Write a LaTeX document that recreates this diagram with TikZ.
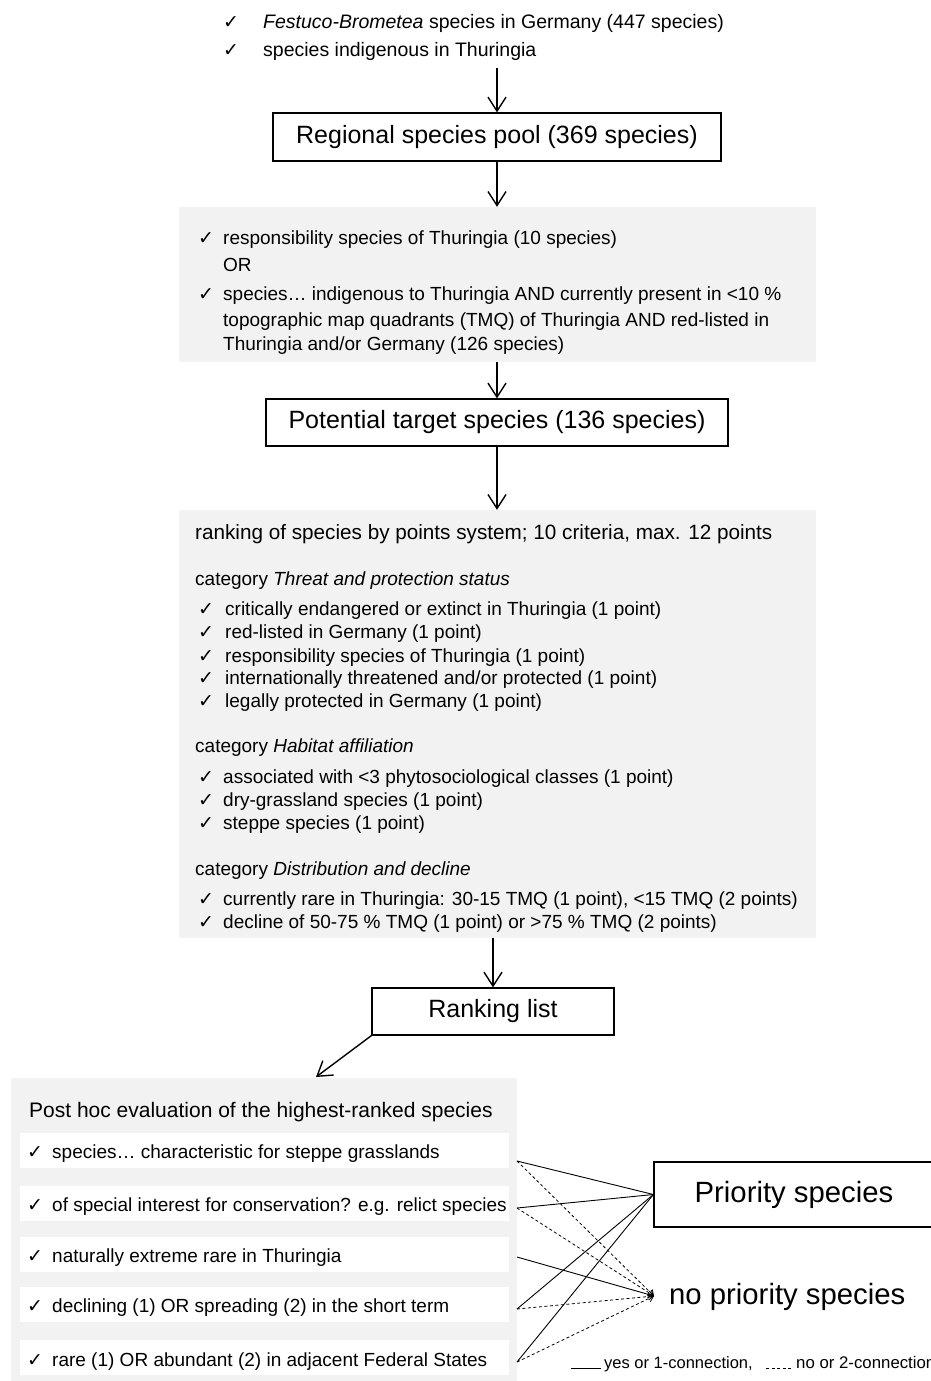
\documentclass[tikz,border=0pt]{standalone}
\usepackage{fontspec}
\setmainfont{Liberation Sans}
\newfontfamily\checkfont{DejaVu Sans}
\usetikzlibrary{positioning,arrows.meta}

\newcommand{\chk}[1][25pt]{\makebox[#1][l]{\checkfont\fontsize{19}{19}\selectfont ✓}}
\newcommand{\fs}[1]{\fontsize{#1}{#1}\selectfont}

\tikzset{
  titlebox/.style={draw, line width=1.2pt, minimum height=48pt, inner sep=0pt, font=\fs{25}},
  greybox/.style={fill=black!5, inner sep=0pt},
  rowbox/.style={fill=white, inner sep=0pt, minimum width=489pt, minimum height=35pt},
  txt/.style={anchor=base west, inner sep=0pt, font=\fs{19}},
  arr/.style={-{Straight Barb[length=14pt,width=18pt]}, line width=1.4pt},
  yes/.style={line width=0.9pt},
  no/.style={line width=0.8pt, dash pattern=on 3pt off 2.5pt},
  tip/.style={-{Straight Barb[length=5pt,width=7pt]}}
}

\begin{document}
\begin{tikzpicture}[x=1pt,y=-1pt]
    \useasboundingbox (0,0) rectangle (931,1381);

    % selection of the pool
    \node[txt, font=\fs{19.5}] (sel1) at (223,29) {\chk[40pt]\textit{Festuco-Brometea} species in Germany (447 species)};
    \node[txt, font=\fs{19.5}] (sel2) at (223,57) {\chk[40pt]species indigenous in Thuringia};
    \coordinate (selout) at (497,68);

    \node[titlebox, minimum width=448pt] (pool) at (497,137) {Regional species pool (369 species)};

    % criteria for target species
    \node[greybox, minimum width=637pt, minimum height=155pt] (crit) at (497,284.5) {};
    \node[txt] (c1) at (198,244) {\chk responsibility species of Thuringia (10 species)};
    \node[txt] (c2) at (223,271) {OR};
    \node[txt] (c3) at (198,300) {\chk species… indigenous to Thuringia AND currently present in <10 \%};
    \node[txt] (c4) at (223,326) {topographic map quadrants (TMQ) of Thuringia AND red-listed in};
    \node[txt] (c5) at (223,350) {Thuringia and/or Germany (126 species)};

    \node[titlebox, minimum width=462pt, minimum height=47pt] (pot) at (497,422.5) {Potential target species (136 species)};

    % points system
    \node[greybox, minimum width=637pt, minimum height=428pt] (rank) at (497,724) {};
    \node[txt, font=\fs{20.7}] (r0) at (195,539) {ranking of species by points system; 10 criteria, max. 12 points};
    \node[txt] (cat1) at (195,585) {category \textit{Threat and protection status}};
    \node[txt] (t1) at (198,615) {\chk[27pt]critically endangered or extinct in Thuringia (1 point)};
    \node[txt] (t2) at (198,638) {\chk[27pt]red-listed in Germany (1 point)};
    \node[txt] (t3) at (198,662) {\chk[27pt]responsibility species of Thuringia (1 point)};
    \node[txt] (t4) at (198,684) {\chk[27pt]internationally threatened and/or protected (1 point)};
    \node[txt] (t5) at (198,707) {\chk[27pt]legally protected in Germany (1 point)};
    \node[txt] (cat2) at (195,752) {category \textit{Habitat affiliation}};
    \node[txt] (h1) at (198,783) {\chk associated with <3 phytosociological classes (1 point)};
    \node[txt] (h2) at (198,806) {\chk dry-grassland species (1 point)};
    \node[txt] (h3) at (198,829) {\chk steppe species (1 point)};
    \node[txt] (cat3) at (195,875) {category \textit{Distribution and decline}};
    \node[txt] (d1) at (198,905) {\chk currently rare in Thuringia: 30-15 TMQ (1 point), <15 TMQ (2 points)};
    \node[txt] (d2) at (198,928) {\chk decline of 50-75 \% TMQ (1 point) or >75 \% TMQ (2 points)};

    \node[titlebox, minimum width=242pt, minimum height=47pt] (list) at (493,1011.5) {Ranking list};

    % post hoc evaluation
    \node[greybox, minimum width=506pt, minimum height=303pt] (post) at (264,1229.5) {};
    \coordinate (postin) at (316,1077);
    \node[txt, font=\fs{21}] (p0) at (29,1117) {Post hoc evaluation of the highest-ranked species};
    \node[rowbox] (row1) at (264.5,1150.5) {};
    \node[rowbox] (row2) at (264.5,1203.5) {};
    \node[rowbox] (row3) at (264.5,1254) {};
    \node[rowbox] (row4) at (264.5,1304.5) {};
    \node[rowbox] (row5) at (264.5,1357.5) {};
    \node[txt] (q1) at (27,1158) {\chk species… characteristic for steppe grasslands};
    \node[txt] (q2) at (27,1211) {\chk of special interest for conservation? e.g. relict species};
    \node[txt] (q3) at (27,1262) {\chk naturally extreme rare in Thuringia};
    \node[txt] (q4) at (27,1312) {\chk declining (1) OR spreading (2) in the short term};
    \node[txt] (q5) at (27,1366) {\chk rare (1) OR abundant (2) in adjacent Federal States};
    \coordinate (e1) at (517,1161);
    \coordinate (e2) at (517,1208);
    \coordinate (e3) at (517,1257);
    \coordinate (e4) at (517,1309);
    \coordinate (e5) at (517,1362);

    \node[draw, line width=1.2pt, minimum width=280pt, minimum height=65pt, inner sep=0pt, font=\fs{29.3}] (prio) at (794,1194.5) {Priority species};
    \node[anchor=west, inner sep=0pt, font=\fs{29.3}] (noprio) at (669,1297) {no priority species};
    \coordinate (np) at (654,1296);

    % flow
    \draw[arr] (selout) -- (pool.north);
    \draw[arr] (pool.south) -- (pool.south |- crit.north);
    \draw[arr] (crit.south) -- (crit.south |- pot.north);
    \draw[arr] (pot.south) -- (pot.south |- rank.north);
    \draw[arr] (list.north |- rank.south) -- (list.north);
    \draw[arr] (list.south west) -- (postin);

    % connections
    \draw[yes] (e1) -- (prio.west);
    \draw[yes] (e2) -- (prio.west);
    \draw[yes] (e4) -- (prio.west);
    \draw[yes] (e5) -- (prio.west);
    \draw[yes,tip] (e3) -- (np);
    \draw[no,tip] (e1) -- (np);
    \draw[no,tip] (e2) -- (np);
    \draw[no,tip] (e4) -- (np);
    \draw[no,tip] (e5) -- (np);

    % legend
    \node[txt, font=\fs{16.5}] (leg1) at (604,1368) {yes or 1-connection,};
    \node[txt, font=\fs{16.8}] (leg2) at (796,1368) {no or 2-connection};
    \draw[yes] ([xshift=-33pt]leg1.base west) -- ([xshift=-3pt]leg1.base west);
    \draw[no] ([xshift=-30pt]leg2.base west) -- ([xshift=-3pt]leg2.base west);
\end{tikzpicture}
\end{document}
